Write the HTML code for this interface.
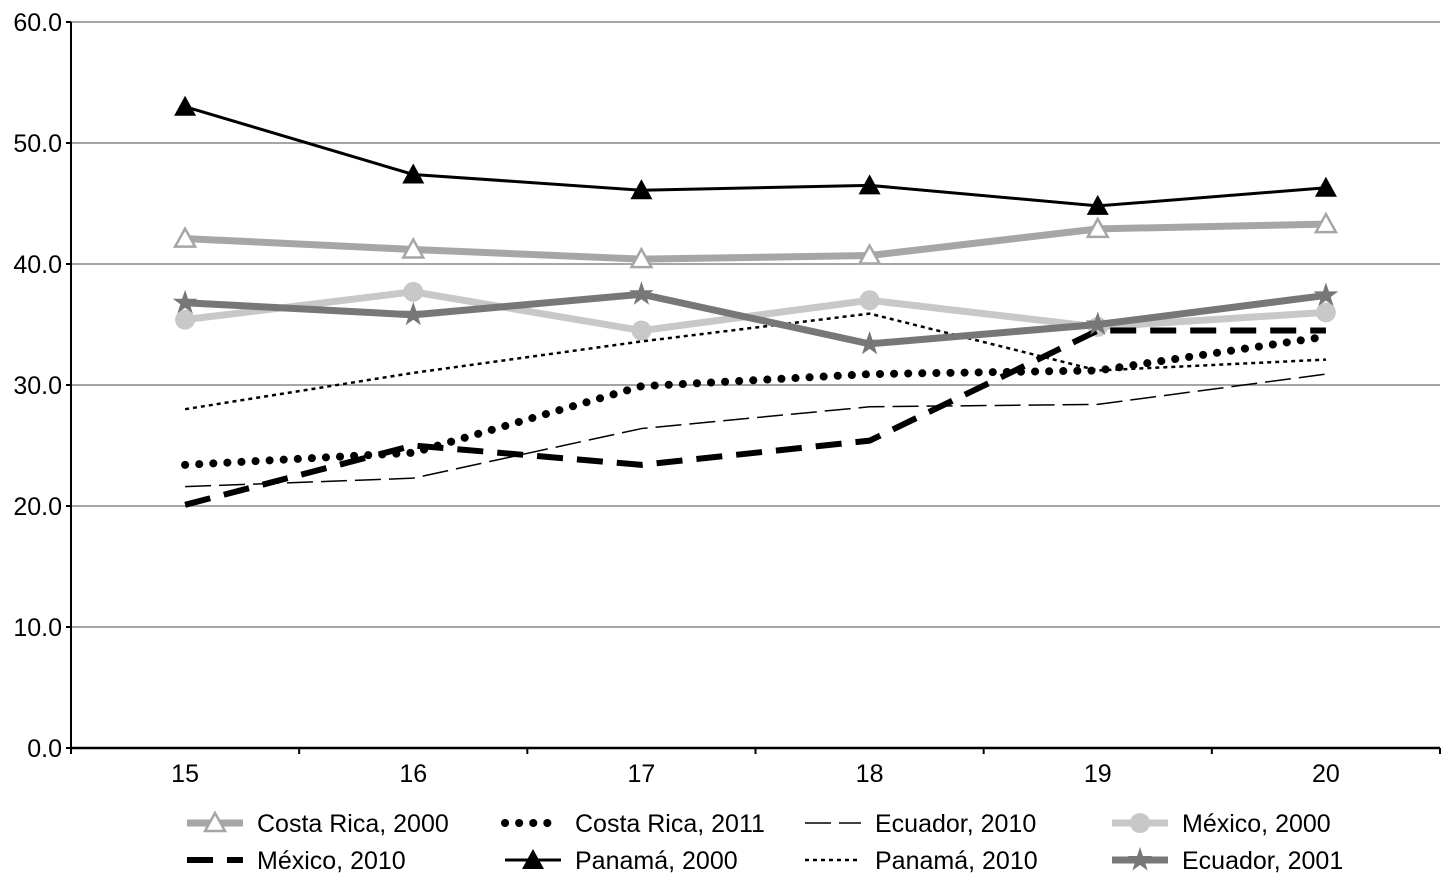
<!DOCTYPE html>
<html><head><meta charset="utf-8"><style>
body{margin:0;background:#fff}
svg text{font-family:"Liberation Sans",sans-serif;fill:#000}
</style></head><body>
<svg id="c" width="1456" height="890" xmlns="http://www.w3.org/2000/svg"></svg>
<script>
const categories=["15","16","17","18","19","20"];
const yTicks=[0,10,20,30,40,50,60];
const crica2000=[42.1,41.2,40.4,40.7,42.9,43.3];
const crica2011=[23.4,24.4,29.9,30.9,31.2,34.0];
const ecu2010=[21.6,22.3,26.4,28.2,28.4,30.9];
const mex2000=[35.4,37.7,34.5,37.0,34.8,36.0];
const mex2010=[20.1,25.0,23.4,25.4,34.5,34.5];
const pan2000=[53.0,47.4,46.1,46.5,44.8,46.3];
const pan2010=[28.0,31.0,33.6,35.9,31.2,32.1];
const ecu2001=[36.8,35.8,37.5,33.4,35.0,37.4];
const seriesNames=["Costa Rica, 2000","Costa Rica, 2011","Ecuador, 2010","México, 2000","México, 2010","Panamá, 2000","Panamá, 2010","Ecuador, 2001"];

const svg=document.getElementById('c');const NS='http://www.w3.org/2000/svg';
const L=71,R=1440,T=22,B=748,step=(R-L)/categories.length;
const x=i=>L+step*(i+0.5);
const y=v=>B-(v/60)*(B-T);
function mk(t,a,p){const e=document.createElementNS(NS,t);for(const k in a)e.setAttribute(k,a[k]);(p||svg).appendChild(e);return e;}
yTicks.forEach(v=>{
 if(v>0){const g=mk('line',{x1:L,x2:R,y1:y(v),y2:y(v),stroke:'#888','stroke-width':1.5});
 
 }
 const t=mk('text',{x:L-9,y:y(v)+9,'text-anchor':'end','font-size':25});t.textContent=v.toFixed(1);
 
 
 mk('line',{x1:L-5,x2:L,y1:y(v),y2:y(v),stroke:'#000','stroke-width':2});
});
mk('line',{x1:L,x2:L,y1:T,y2:B,stroke:'#000','stroke-width':2});
mk('line',{x1:L,x2:R,y1:B,y2:B,stroke:'#000','stroke-width':2.5});
for(let i=0;i<=categories.length;i++)mk('line',{x1:L+step*i,x2:L+step*i,y1:B,y2:B+6,stroke:'#000','stroke-width':2});
categories.forEach((c,i)=>{const t=mk('text',{x:x(i),y:B+34,'text-anchor':'middle','font-size':25});t.textContent=c;
 
 });
const styles=[
 {d:crica2000,s:'#a6a6a6',w:7,da:'',m:'tri-open'},
 {d:crica2011,s:'#000',w:8,da:'0.1 14',cap:'round',m:''},
 {d:ecu2010,s:'#000',w:1.5,da:'26 8',m:''},
 {d:mex2000,s:'#c8c8c8',w:7,da:'',m:'circle'},
 {d:mex2010,s:'#000',w:6,da:'26 14',m:''},
 {d:pan2000,s:'#000',w:3,da:'',m:'tri'},
 {d:pan2010,s:'#000',w:2.5,da:'4 4',m:''},
 {d:ecu2001,s:'#777',w:7,da:'',m:'star'}];
function marker(m,cx,cy,p,col){
 if(m==='tri')mk('polygon',{points:`${cx},${cy-11} ${cx-11},${cy+9} ${cx+11},${cy+9}`,fill:'#000'},p);
 if(m==='tri-open')mk('polygon',{points:`${cx},${cy-10} ${cx-10},${cy+8} ${cx+10},${cy+8}`,fill:'#fff',stroke:col,'stroke-width':2.5},p);
 if(m==='circle')mk('circle',{cx:cx,cy:cy,r:10,fill:col},p);
 if(m==='star'){let pts=[];for(let k=0;k<10;k++){const r=k%2?5:13,a=-Math.PI/2+k*Math.PI/5;pts.push((cx+r*Math.cos(a)).toFixed(1)+','+(cy+r*Math.sin(a)).toFixed(1));}
  mk('polygon',{points:pts.join(' '),fill:col},p);}
}
styles.forEach((st,si)=>{
 const g=mk('g',{});
 
 
 mk('polyline',{points:st.d.map((v,i)=>x(i)+','+y(v)).join(' '),fill:'none',stroke:st.s,'stroke-width':st.w,'stroke-dasharray':st.da,'stroke-linecap':st.cap||'butt'},g);
 st.d.forEach((v,i)=>marker(st.m,x(i),y(v),g,st.s));
 const col=si%4,row=Math.floor(si/4);
 const lx=[187,505,805,1112][col],ly=[823,860][row];
 const lg=mk('g',{});
 
 
 mk('line',{x1:lx,x2:lx+56,y1:ly,y2:ly,stroke:st.s,'stroke-width':st.w,'stroke-dasharray':st.da,'stroke-linecap':st.cap||'butt'},lg);
 marker(st.m,lx+28,ly,lg,st.s);
 const t=mk('text',{x:lx+70,y:ly+9,'font-size':25},lg);t.textContent=seriesNames[si];
});
</script>
</body></html>
